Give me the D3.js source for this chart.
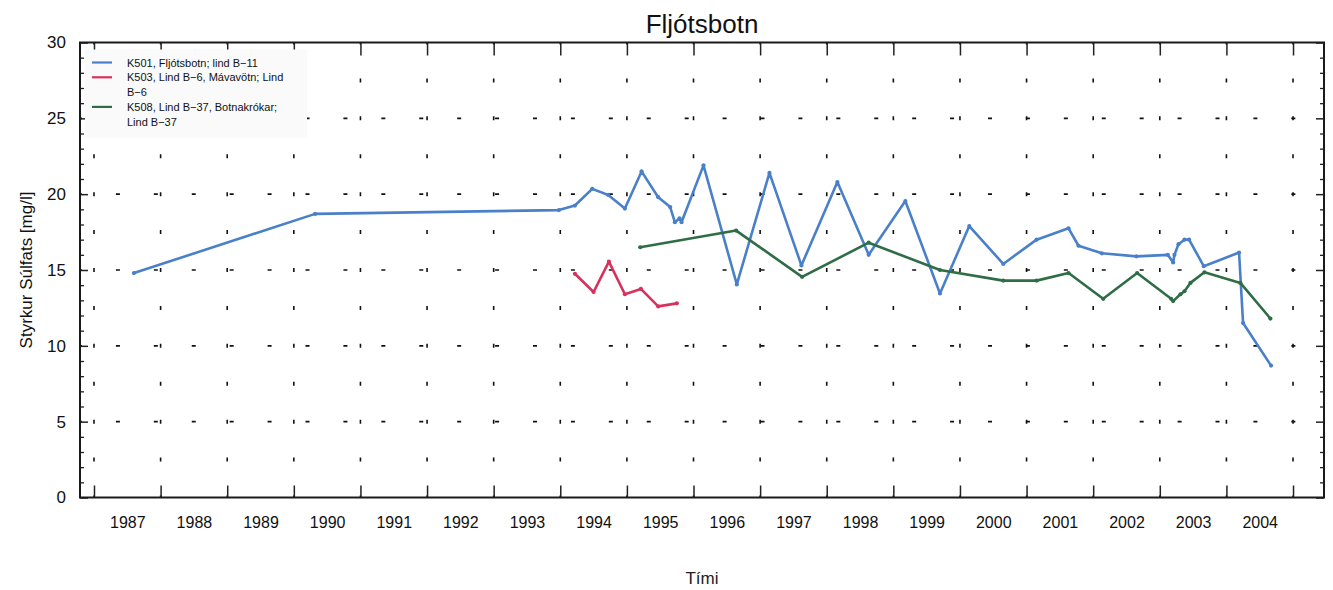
<!DOCTYPE html>
<html>
<head>
<meta charset="utf-8">
<script src="https://cdn.jsdelivr.net/npm/d3@7"></script>
<style>
  html, body { margin: 0; padding: 0; background: #fff; }
  svg { display: block; font-family: "Liberation Sans", Arial, sans-serif; }
</style>
</head>
<body>
<svg id="chart" width="1333" height="590"></svg>
<script>
// Sulphate concentration at Fljótsbotn sampling stations (decimal year, mg/l)
const k501Years = [1987.60, 1990.32, 1993.98, 1994.22, 1994.48, 1994.72, 1994.97, 1995.22, 1995.47,
  1995.65, 1995.72, 1995.79, 1995.82, 1996.15, 1996.65, 1997.14, 1997.62, 1998.16, 1998.63,
  1999.18, 1999.70, 2000.14, 2000.65, 2001.15, 2001.63, 2001.78, 2002.13, 2002.65, 2003.12,
  2003.20, 2003.22, 2003.28, 2003.37, 2003.44, 2003.66, 2004.19, 2004.25, 2004.67];
const k501Values = [14.8, 18.7, 18.95, 19.25, 20.35, 19.95, 19.05, 21.5, 19.8,
  19.15, 18.15, 18.4, 18.15, 21.9, 14.05, 21.4, 15.3, 20.8, 16.0,
  19.55, 13.45, 17.9, 15.4, 17.0, 17.75, 16.6, 16.1, 15.9, 16.0,
  15.5, 16.0, 16.7, 17.0, 17.0, 15.25, 16.15, 11.5, 8.7];

const k503Years = [1994.22, 1994.50, 1994.73, 1994.97, 1995.21, 1995.47, 1995.75];
const k503Values = [14.75, 13.55, 15.55, 13.4, 13.75, 12.6, 12.8];

const k508Years = [1995.20, 1996.64, 1997.63, 1998.63, 1999.70, 2000.65, 2001.15, 2001.63,
  2002.15, 2002.66, 2003.17, 2003.20, 2003.31, 2003.37, 2003.46, 2003.67, 2004.21, 2004.66];
const k508Values = [16.5, 17.6, 14.55, 16.8, 15.0, 14.3, 14.3, 14.8,
  13.1, 14.8, 13.1, 12.95, 13.4, 13.6, 14.15, 14.85, 14.15, 11.8];

const seriesNames = ["K501, Fljótsbotn; lind B\u221211",
  "K503, Lind B\u22126, Mávavötn; Lind\nB\u22126",
  "K508, Lind B\u221237, Botnakrókar;\nLind B\u221237"];
const seriesColors = ["#4a80c9", "#d6325c", "#2f6d46"];

const yearTicks = d3.range(1987, 2006);          // year boundaries
const yearLabels = d3.range(1987, 2005);         // labels centred in each year
const yMajor = [0, 5, 10, 15, 20, 25, 30];

const title = "Fljótsbotn";
const xTitle = "Tími";
const yTitle = "Styrkur Súlfats [mg/l]";

const W = 1333, H = 590;
const margin = { left: 80, right: 9, top: 42.5, bottom: 92.5 };
const svg = d3.select("#chart");

const x = d3.scaleLinear().domain([1986.79, 2005.465]).range([margin.left, W - margin.right]);
const y = d3.scaleLinear().domain([0, 30]).range([H - margin.bottom, margin.top]);
const x0 = margin.left, x1 = W - margin.right, y0 = H - margin.bottom, y1 = margin.top;

// sparse dotted grid: short dashes repeating every 2.5 mg/l in both directions
const step = y(0) - y(2.5);
const dash = 4;
const grid = svg.append("g");
grid.selectAll("line.v").data(yearTicks).join("line")
  .attr("x1", d => x(d)).attr("x2", d => x(d))
  .attr("y1", y0).attr("y2", y1)
  .attr("stroke", "#111").attr("stroke-width", 1.6)
  .attr("stroke-dasharray", `${dash} ${step - dash}`)
  .attr("stroke-dashoffset", dash / 2 - step);
grid.selectAll("line.h").data(yMajor.filter(v => v > 0 && v < 30)).join("line")
  .attr("x1", x0).attr("x2", x1)
  .attr("y1", d => y(d)).attr("y2", d => y(d))
  .attr("stroke", "#111").attr("stroke-width", 1.6)
  .attr("stroke-dasharray", `${dash} ${step - dash}`)
  .attr("stroke-dashoffset", dash / 2 - step);

// axes with inward ticks on all four sides
const clean = g => g.call(s => s.select(".domain").remove());
svg.append("g").attr("transform", `translate(0,${y0})`)
  .call(d3.axisBottom(x).tickValues(yearTicks).tickSize(-12).tickFormat(""))
  .call(clean).selectAll("line").attr("stroke", "#222").attr("stroke-width", 1.5);
svg.append("g").attr("transform", `translate(0,${y1})`)
  .call(d3.axisTop(x).tickValues(yearTicks).tickSize(-13).tickFormat(""))
  .call(clean).selectAll("line").attr("stroke", "#222").attr("stroke-width", 1.5);

const xl = svg.append("g").attr("transform", `translate(0,${y0})`)
  .call(d3.axisBottom(x).tickValues(yearLabels.map(v => v + 0.5)).tickSize(0).tickPadding(19)
    .tickFormat(d => String(Math.floor(d))))
  .call(clean);
xl.selectAll("text").attr("font-size", 16).attr("fill", "#111")
  .attr("font-family", "'Liberation Sans', Arial, sans-serif");

const yMinor = d3.range(0, 31);
[[d3.axisLeft, x0], [d3.axisRight, x1]].forEach(([ax, px]) => {
  svg.append("g").attr("transform", `translate(${px},0)`)
    .call(ax(y).tickValues(yMinor.filter(v => v % 5)).tickSize(-4).tickFormat(""))
    .call(clean).selectAll("line").attr("stroke", "#222").attr("stroke-width", 1.3);
  svg.append("g").attr("transform", `translate(${px},0)`)
    .call(ax(y).tickValues(yMajor).tickSize(-8).tickFormat(""))
    .call(clean).selectAll("line").attr("stroke", "#222").attr("stroke-width", 1.5);
});
const yl = svg.append("g").attr("transform", `translate(${x0},0)`)
  .call(d3.axisLeft(y).tickValues(yMajor).tickSize(0).tickPadding(14))
  .call(clean);
yl.selectAll("text").attr("font-size", 17).attr("fill", "#111")
  .attr("font-family", "'Liberation Sans', Arial, sans-serif");

// plot frame
svg.append("rect").attr("x", x0).attr("y", y1).attr("width", x1 - x0).attr("height", y0 - y1)
  .attr("fill", "none").attr("stroke", "#1a1a1a").attr("stroke-width", 2);

// legend on its own pale panel, hiding the grid behind it
const legend = svg.append("g").attr("transform", `translate(${x0 + 12},${y1 + 20})`);
legend.append("rect").attr("x", -7).attr("y", -13).attr("width", 222).attr("height", 88)
  .attr("fill", "#fafafa");
let row = 0;
seriesNames.forEach((name, i) => {
  const lines = name.split("\n");
  const gy = row * 14.8;
  legend.append("line").attr("x1", 0).attr("x2", 20).attr("y1", gy).attr("y2", gy)
    .attr("stroke", seriesColors[i]).attr("stroke-width", 2.2);
  lines.forEach((t, j) => {
    legend.append("text").attr("x", 35).attr("y", gy + j * 14.8 + 4)
      .attr("font-size", 11).attr("fill", "#111").text(t);
  });
  row += lines.length;
});

// series lines with small markers at each sample
const series = [
  [k501Years, k501Values],
  [k503Years, k503Values],
  [k508Years, k508Values]
];
const line = d3.line().x(d => x(d[0])).y(d => y(d[1]));
series.forEach(([ts, vs], i) => {
  const pts = ts.map((t, k) => [t, vs[k]]);
  svg.append("path").datum(pts).attr("d", line)
    .attr("fill", "none").attr("stroke", seriesColors[i]).attr("stroke-width", 2.6)
    .attr("stroke-linejoin", "round");
  svg.append("g").selectAll("circle").data(pts).join("circle")
    .attr("cx", d => x(d[0])).attr("cy", d => y(d[1])).attr("r", 2.1)
    .attr("fill", seriesColors[i]);
});

// titles
svg.append("text").attr("x", (x0 + x1) / 2).attr("y", 33).attr("text-anchor", "middle")
  .attr("font-size", 26).attr("fill", "#111").text(title);
svg.append("text").attr("x", (x0 + x1) / 2).attr("y", 584).attr("text-anchor", "middle")
  .attr("font-size", 17).attr("fill", "#222").text(xTitle);
svg.append("text").attr("transform", `translate(32,${(y0 + y1) / 2}) rotate(-90)`)
  .attr("text-anchor", "middle").attr("font-size", 17).attr("fill", "#111").text(yTitle);
</script>
</body>
</html>
